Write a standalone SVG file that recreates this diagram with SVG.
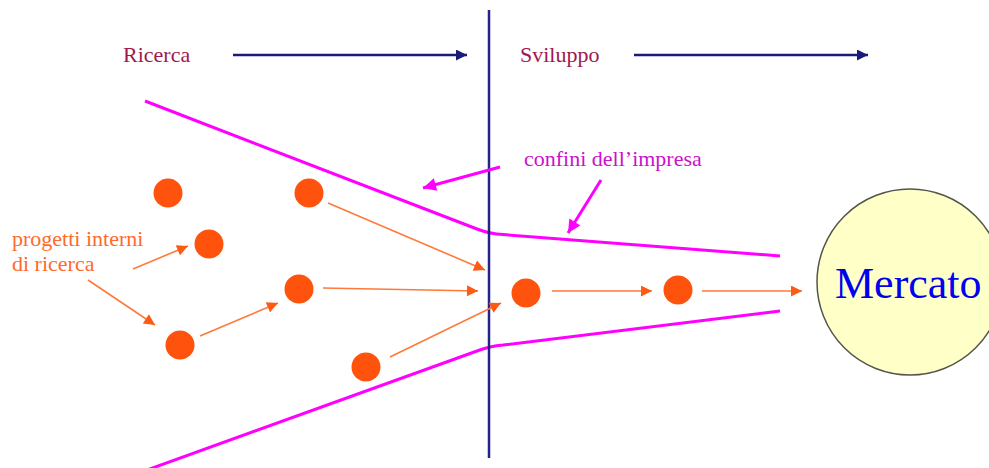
<svg xmlns="http://www.w3.org/2000/svg" width="989" height="468" viewBox="0 0 989 468">
<defs>
<marker id="navyHead" viewBox="0 0 10 10" refX="10" refY="5" markerWidth="12" markerHeight="11" markerUnits="userSpaceOnUse" orient="auto"><path d="M0,0 L10,5 L0,10 z" fill="#1a1a7a"/></marker>
<marker id="magHead" viewBox="0 0 10 10" refX="10" refY="5" markerWidth="17" markerHeight="13" markerUnits="userSpaceOnUse" orient="auto"><path d="M0,0 L10,5 L0,10 z" fill="#ff00ff"/></marker>
<marker id="orHead" viewBox="0 0 10 10" refX="10" refY="5" markerWidth="14" markerHeight="11" markerUnits="userSpaceOnUse" orient="auto"><path d="M0,0 L10,5 L0,10 z" fill="#ff5a14"/></marker>
</defs>
<style>
.lbl{font-family:"Liberation Serif","Times New Roman",serif;font-size:22px}
.phase{fill:#a0184e}
.dot{fill:#ff530d}
.oa{stroke:#ff7a3a;stroke-width:1.6;fill:none;marker-end:url(#orHead)}
.ma{stroke:#ff00ff;stroke-width:3;fill:none;marker-end:url(#magHead)}
.bound{stroke:#ff00ff;stroke-width:3;fill:none}
.na{stroke:#1a1a7a;stroke-width:2.5;fill:none;marker-end:url(#navyHead)}
</style>
<rect width="989" height="468" fill="#ffffff"/>

<g id="boundaries">
<path class="bound" d="M145,101 L477,229 Q490,234 503,234.5 L780,256"/>
<path class="bound" d="M147,470 L477,351 Q490,346 503,345 L780,311"/>
</g>

<g id="divider">
<line x1="489" y1="10" x2="489" y2="458" stroke="#23238a" stroke-width="2.5"/>
</g>

<g id="phase-ricerca">
<text class="lbl phase" x="123" y="62">Ricerca</text>
</g>
<g id="phase-sviluppo">
<text class="lbl phase" x="520" y="62">Sviluppo</text>
</g>

<g id="label-confini">
<text class="lbl" x="524" y="166" fill="#cc10cc">confini dell’impresa</text>
</g>

<g id="label-progetti">
<text class="lbl" x="12" y="246" fill="#ff6a2a">progetti interni</text>
<text class="lbl" x="12" y="271" fill="#ff6a2a">di ricerca</text>
</g>

<g id="p1"><circle class="dot" cx="168" cy="193" r="14.5"/></g>
<g id="p2"><circle class="dot" cx="209" cy="244" r="14.5"/></g>
<g id="p3"><circle class="dot" cx="309" cy="193" r="14.5"/></g>
<g id="p4"><circle class="dot" cx="299" cy="289" r="14.5"/></g>
<g id="p5"><circle class="dot" cx="180" cy="345" r="14.5"/></g>
<g id="p6"><circle class="dot" cx="366" cy="367" r="14.5"/></g>
<g id="p7"><circle class="dot" cx="526" cy="293" r="14.5"/></g>
<g id="p8"><circle class="dot" cx="678" cy="290" r="14.5"/></g>

<g id="mercato">
<circle cx="910" cy="282" r="93" fill="#ffffc8" stroke="#55554a" stroke-width="1.5"/>
<text x="835" y="298" font-family="'Liberation Serif','Times New Roman',serif" font-size="44" fill="#0000ee">Mercato</text>
</g>

<g id="connectors">
<line class="na" x1="233" y1="55" x2="467" y2="55"/>
<line class="na" x1="634" y1="55" x2="868" y2="55"/>
<line class="ma" x1="500" y1="167" x2="423" y2="188"/>
<line class="ma" x1="601" y1="180" x2="568" y2="233"/>
<line class="oa" x1="133" y1="269" x2="188" y2="246"/>
<line class="oa" x1="88" y1="280" x2="155" y2="325"/>
<line class="oa" x1="200" y1="336" x2="278" y2="303"/>
<line class="oa" x1="328" y1="203" x2="485" y2="270"/>
<line class="oa" x1="323" y1="288" x2="478" y2="291"/>
<line class="oa" x1="390" y1="357" x2="501" y2="303"/>
<line class="oa" x1="552" y1="291" x2="652" y2="291"/>
<line class="oa" x1="702" y1="291" x2="802" y2="291"/>
</g>
</svg>
